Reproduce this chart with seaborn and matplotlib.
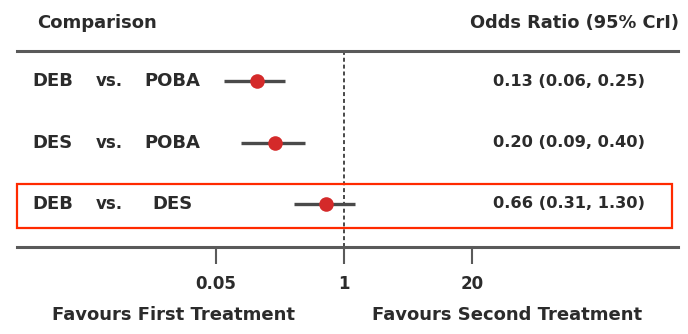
import matplotlib
matplotlib.use("Agg")
import matplotlib.pyplot as plt
import matplotlib.transforms as mtransforms
from matplotlib.patches import Rectangle
import numpy as np
import pandas as pd
import seaborn as sns

# Network meta-analysis comparisons (odds ratio with 95% credible interval)
first_treatment = ["DEB", "DES", "DEB"]
second_treatment = ["POBA", "POBA", "DES"]
odds_ratio = [0.13, 0.20, 0.66]
ci_low = [0.06, 0.09, 0.31]
ci_high = [0.25, 0.40, 1.30]
tick_values = [0.05, 1, 20]
tick_labels = ["0.05", "1", "20"]

df = pd.DataFrame({
    "first": first_treatment,
    "second": second_treatment,
    "odds_ratio": odds_ratio,
    "low": ci_low,
    "high": ci_high,
})
df["row"] = np.arange(len(df))

sns.set_style("white")
plt.rcParams["font.family"] = ["DejaVu Sans"]
plt.rcParams["font.weight"] = "bold"

W, H = 688, 334
fig = plt.figure(figsize=(W / 100, H / 100), dpi=100)
fig.patch.set_facecolor("white")

def fx(px):
    return px / W

def fy(py):
    return 1 - py / H

# plotting panel between the two horizontal rules
left_px, right_px, top_px, bottom_px = 17, 678, 51, 247
ax = fig.add_axes([fx(left_px), fy(bottom_px), fx(right_px - left_px), (bottom_px - top_px) / H])

ref_px, px_per_decade = 344, 98.5
ax.set_xscale("log")
ax.set_xlim(10 ** ((left_px - ref_px) / px_per_decade), 10 ** ((right_px - ref_px) / px_per_decade))
row0_px, row_step = 81, 61.5
ax.set_ylim(2 + (bottom_px - (row0_px + 2 * row_step)) / row_step, (top_px - row0_px) / row_step)

text_color = "#2b2b2b"
rule_color = "#5a5a5a"

ax.axvline(1, color="#3a3a3a", lw=1.3, ls=(0, (2.2, 1.6)), zorder=1)
ax.hlines(df["row"], df["low"], df["high"], color="#4a4a4a", lw=2.4, zorder=2)
sns.scatterplot(data=df, x="odds_ratio", y="row", ax=ax, color="#d42a2a",
                s=110, edgecolor="#d42a2a", linewidth=0, zorder=3, legend=False)

ax.set_xlabel("")
ax.set_ylabel("")
ax.set_yticks([])
ax.minorticks_off()
ax.xaxis.set_minor_locator(matplotlib.ticker.NullLocator())
ax.set_xticks(tick_values)
ax.set_xticklabels(tick_labels, fontsize=12, fontweight="bold", color=text_color)
ax.tick_params(axis="x", which="major", direction="out", length=12, width=1.5,
               color=rule_color, pad=8, bottom=True, top=False)
for side in ["left", "right"]:
    ax.spines[side].set_visible(False)
for side in ["top", "bottom"]:
    ax.spines[side].set_visible(True)
    ax.spines[side].set_color(rule_color)
    ax.spines[side].set_linewidth(2.2)
ax.set_facecolor("white")

# row labels and estimates
blend = mtransforms.blended_transform_factory(fig.transFigure, ax.transData)
for _, r in df.iterrows():
    ax.text(fx(32), r["row"], r["first"], transform=blend, ha="left", va="center",
            fontsize=13, fontweight="bold", color=text_color, clip_on=False)
    ax.text(fx(109), r["row"], "vs.", transform=blend, ha="center", va="center",
            fontsize=12, fontweight="bold", color=text_color, clip_on=False)
    ax.text(fx(172), r["row"], r["second"], transform=blend, ha="center", va="center",
            fontsize=13, fontweight="bold", color=text_color, clip_on=False)
    label = f"{r['odds_ratio']:.2f} ({r['low']:.2f}, {r['high']:.2f})"
    ax.text(fx(645), r["row"], label, transform=blend, ha="right", va="center",
            fontsize=11.7, fontweight="bold", color=text_color, clip_on=False)

# column headers
fig.text(fx(37), fy(23), "Comparison", ha="left", va="center", fontsize=13,
         fontweight="bold", color=text_color)
fig.text(fx(679), fy(23), "Odds Ratio (95% CrI)", ha="right", va="center", fontsize=12.8,
         fontweight="bold", color=text_color)

# direction captions
fig.text(fx(174), fy(315), "Favours First Treatment", ha="center", va="center",
         fontsize=13, fontweight="bold", color=text_color)
fig.text(fx(507), fy(315), "Favours Second Treatment", ha="center", va="center",
         fontsize=13, fontweight="bold", color=text_color)

# highlight box around the head-to-head comparison
fig.patches.append(Rectangle((fx(17), fy(228)), fx(672 - 17), (228 - 184) / H,
                             transform=fig.transFigure, fill=False,
                             edgecolor="#ff2a00", linewidth=1.6, zorder=10))

fig.savefig("out.png", dpi=100, facecolor="white")
